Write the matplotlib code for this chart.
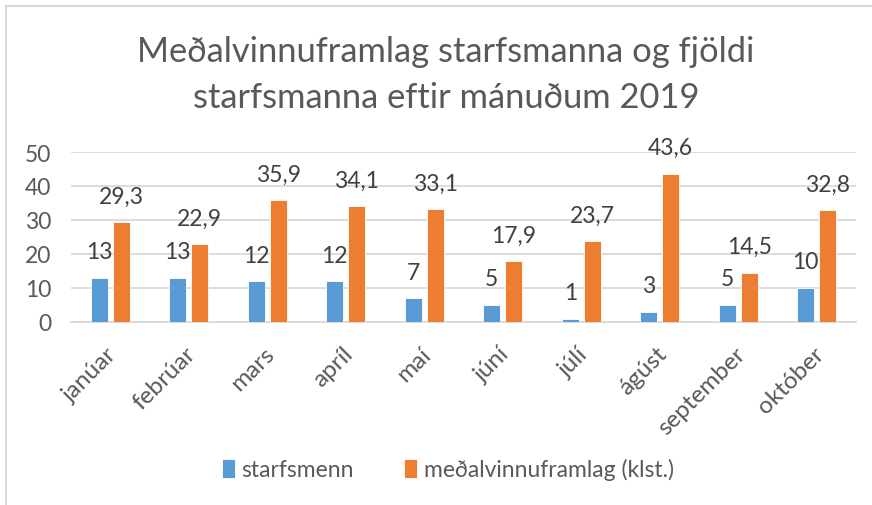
import matplotlib
matplotlib.use("Agg")
import matplotlib.pyplot as plt
import matplotlib.transforms as mtransforms
import numpy as np
from matplotlib.patches import Rectangle

plt.rcParams['font.family'] = ['Lato', 'DejaVu Sans']

months = ["janúar", "febrúar", "mars", "apríl", "maí", "júní", "júlí", "ágúst", "september", "október"]
starfsmenn = [13, 13, 12, 12, 7, 5, 1, 3, 5, 10]
framlag = [29.3, 22.9, 35.9, 34.1, 33.1, 17.9, 23.7, 43.6, 14.5, 32.8]
series_names = ["starfsmenn", "meðalvinnuframlag (klst.)"]
title = "Meðalvinnuframlag starfsmanna og fjöldi\nstarfsmanna eftir mánuðum 2019"

blue = "#5B9BD5"
orange = "#ED7D31"
txt = "#595959"
grid = "#D9D9D9"

W, H = 872, 506
fig = plt.figure(figsize=(W/100, H/100), dpi=100)
ax = fig.add_axes([71/W, 1-323/H, (856-71)/W, (323-153)/H])

x = np.arange(len(months))
off = 0.14
bw = 0.22
b1 = ax.bar(x - off, starfsmenn, bw, color=blue, edgecolor="white", linewidth=0.6, label=series_names[0], zorder=3)
b2 = ax.bar(x + off, framlag, bw, color=orange, edgecolor="white", linewidth=0.6, label=series_names[1], zorder=3)

fs = 16.5
for xi, v in zip(x - off, starfsmenn):
    ax.annotate(f"{v}", (xi, v), xytext=(0, 26), textcoords="offset pixels",
                ha="center", va="center", fontsize=fs, color="#404040", annotation_clip=False)
for xi, v in zip(x + off, framlag):
    ax.annotate(f"{v:.1f}".replace(".", ","), (xi, v), xytext=(0, 26), textcoords="offset pixels",
                ha="center", va="center", fontsize=fs, color="#404040", annotation_clip=False)

ax.set_xlim(-0.5, len(months) - 0.5)
ax.set_ylim(0, 50)
ax.set_yticks(range(0, 51, 10))
ax.yaxis.grid(True, color=grid, linewidth=1.3, zorder=0)
ax.set_axisbelow(True)
for s in ["top", "right", "left"]:
    ax.spines[s].set_visible(False)
ax.spines["bottom"].set_color(grid)
ax.spines["bottom"].set_linewidth(1.3)
ax.tick_params(axis="both", length=0, labelsize=fs, colors=txt)
ax.tick_params(axis="y", pad=14)
ax.set_xticks(x)
ax.set_xticklabels(months, rotation=45, ha="right", va="top", rotation_mode="anchor", fontsize=17.5)
ax.tick_params(axis="x", pad=15)
shift = mtransforms.ScaledTranslation(-4/100, 0, fig.dpi_scale_trans)
for lab in ax.get_xticklabels():
    lab.set_transform(lab.get_transform() + shift)

fig.text(446/W, 1-75/H, title, ha="center", va="center", fontsize=24.8, color=txt,
         linespacing=1.5)

leg = fig.legend(handles=[b1, b2], labels=series_names, loc="center", bbox_to_anchor=(448/W, 1-470/H),
                 ncol=2, frameon=False, fontsize=fs, handlelength=0.55, handleheight=0.9,
                 handletextpad=0.3, columnspacing=2.2)
for t in leg.get_texts():
    t.set_color(txt)

fig.patches.append(Rectangle((6/W, -0.1), 1.2, 1 - 7/H + 0.1, transform=fig.transFigure,
                             fill=False, edgecolor="#D9D9D9", linewidth=1.5))

fig.savefig("out.png", dpi=100, facecolor="white")
